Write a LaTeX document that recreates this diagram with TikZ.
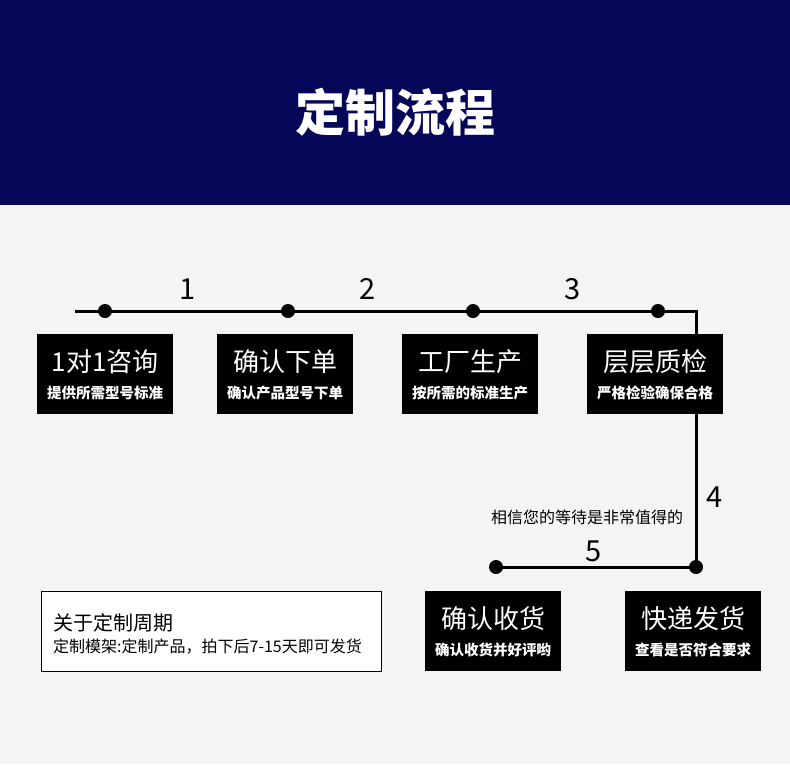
\documentclass[tikz,border=0pt]{standalone}
\usepackage{fontspec}
\setmainfont{Noto Sans CJK SC}
\definecolor{navy}{RGB}{6,6,88}
\definecolor{bggray}{RGB}{244,244,244}
\tikzset{
  stepbox/.style={fill=black, minimum width=136pt, minimum height=80pt, inner sep=0pt},
  boxtitle/.style={text=white, font=\fontsize{26}{30}\selectfont, inner sep=0pt},
  boxsub/.style={text=white, font=\fontsize{14.5}{17}\selectfont\bfseries, inner sep=0pt},
  dot/.style={circle, fill=black, minimum size=14pt, inner sep=0pt},
  num/.style={font=\fontsize{29}{32}\selectfont, inner sep=0pt},
  flow/.style={line width=3pt}
}
\begin{document}
\begin{tikzpicture}[x=1pt,y=-1pt]
\useasboundingbox (0,0) rectangle (790,764);
\fill[bggray] (0,0) rectangle (790,764);
\fill[navy] (0,0) rectangle (790,205);
\node[text=white, font=\fontsize{50}{56}\selectfont\bfseries, inner sep=0pt] (title) at (395,112) {定制流程};

% line
\coordinate (start) at (75,311);
\coordinate (corner) at (696,311);
\node[dot] (d1) at (105,311) {};
\node[dot] (d2) at (288,311) {};
\node[dot] (d3) at (473,311) {};
\node[dot] (d4) at (658,311) {};
\node[dot] (d6) at (696,567) {};
\node[dot] (d5) at (496,567) {};
\draw[flow] (start) -- (d1.center) -- (d2.center) -- (d3.center) -- (d4.center) -- (corner) -- (d6.center) -- (d5.center);

\node[num] (n1) at (188,289) {1};
\node[num] (n2) at (368,289) {2};
\node[num] (n3) at (573,289) {3};
\node[num] (n4) at (715,497) {4};
\node[num] (n5) at (594,551) {5};

\node[font=\fontsize{16}{19}\selectfont, inner sep=0pt] (wait) at (587,517) {相信您的等待是非常值得的};

% boxes
\node[stepbox] (b1) at (105,374) {};
\node[boxtitle] at ([yshift=12pt]b1.center) {1对1咨询};
\node[boxsub] at ([yshift=-19pt]b1.center) {提供所需型号标准};

\node[stepbox] (b2) at (285,374) {};
\node[boxtitle] at ([yshift=12pt]b2.center) {确认下单};
\node[boxsub] at ([yshift=-19pt]b2.center) {确认产品型号下单};

\node[stepbox] (b3) at (470,374) {};
\node[boxtitle] at ([yshift=12pt]b3.center) {工厂生产};
\node[boxsub] at ([yshift=-19pt]b3.center) {按所需的标准生产};

\node[stepbox] (b4) at (655,374) {};
\node[boxtitle] at ([yshift=12pt]b4.center) {层层质检};
\node[boxsub] at ([yshift=-19pt]b4.center) {严格检验确保合格};

\node[stepbox] (b5) at (493,631) {};
\node[boxtitle] at ([yshift=12pt]b5.center) {确认收货};
\node[boxsub] at ([yshift=-19pt]b5.center) {确认收货并好评哟};

\node[stepbox] (b6) at (693,631) {};
\node[boxtitle] at ([yshift=12pt]b6.center) {快递发货};
\node[boxsub] at ([yshift=-19pt]b6.center) {查看是否符合要求};

% note box
\node[draw=black, fill=white, line width=1pt, minimum width=340pt, minimum height=80pt, inner sep=0pt] (note) at (211,631) {};
\node[anchor=west, font=\fontsize{20}{24}\selectfont, inner sep=0pt] (nt) at (53,623) {关于定制周期};
\node[anchor=west, font=\fontsize{16}{19}\selectfont, inner sep=0pt] (ns) at (53,647) {定制模架:定制产品，拍下后7-15天即可发货};
\end{tikzpicture}
\end{document}
